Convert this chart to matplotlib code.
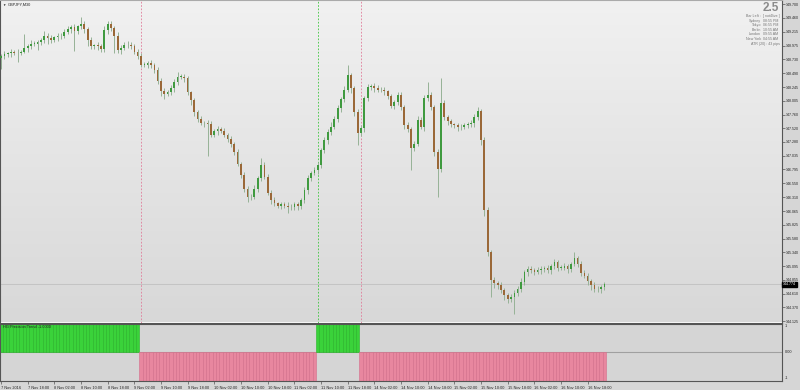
import numpy as np
import matplotlib
matplotlib.use('Agg')
import matplotlib.pyplot as plt
from matplotlib.colors import LinearSegmentedColormap

plt.rcParams['font.family'] = ['Liberation Sans', 'DejaVu Sans']

# GBPJPY hourly closes (7 Nov 10:00 .. 16 Nov 23:00, weekend skipped)
closes = [
    148.79, 148.82, 148.84, 148.86, 148.85, 148.84, 148.87, 148.93, 148.96, 149.01,
    149.01, 149.03, 149.08, 149.15, 149.10, 149.07, 149.12, 149.14, 149.15, 149.21,
    149.26, 149.30, 149.23, 149.31, 149.35, 149.26, 149.07, 148.96, 148.98, 148.96,
    148.91, 149.24, 149.35, 149.28, 149.15, 148.89, 148.94, 148.98, 148.99, 148.96,
    148.87, 148.79, 148.64, 148.64, 148.66, 148.63, 148.54, 148.36, 148.17, 148.13,
    148.15, 148.22, 148.33, 148.43, 148.43, 148.40, 148.15, 148.01, 147.80, 147.68,
    147.61, 147.61, 147.59, 147.41, 147.47, 147.50, 147.48, 147.41, 147.34, 147.24,
    147.11, 146.90, 146.69, 146.46, 146.31, 146.32, 146.46, 146.64, 146.87, 146.67,
    146.39, 146.25, 146.20, 146.16, 146.18, 146.16, 146.13, 146.13, 146.18, 146.15,
    146.25, 146.43, 146.64, 146.73, 146.78, 146.87, 147.13, 147.31, 147.45, 147.55,
    147.68, 147.87, 148.03, 148.20, 148.45, 148.22, 147.80, 147.43, 147.52, 148.05,
    148.24, 148.26, 148.22, 148.20, 148.19, 148.17, 148.08, 147.92, 147.98, 148.10,
    147.89, 147.57, 147.50, 147.18, 147.25, 147.66, 147.54, 148.05, 148.10, 147.89,
    147.10, 146.80, 147.96, 147.71, 147.64, 147.59, 147.57, 147.54, 147.55, 147.57,
    147.59, 147.61, 147.71, 147.82, 147.31, 146.08, 145.34, 144.85, 144.79, 144.76,
    144.67, 144.58, 144.51, 144.55, 144.63, 144.69, 144.81, 144.99, 145.04, 145.02,
    144.99, 145.02, 145.04, 145.06, 145.02, 145.09, 145.16, 145.07, 145.07, 145.09,
    145.04, 145.13, 145.23, 145.14, 144.97, 144.92, 144.83, 144.76, 144.70, 144.69,
    144.72, 144.774,
]
first_open = 148.76

# wick lengths beyond the body, in pips
wick_up = [
    4, 6, 3, 5, 4, 7, 3, 25, 5, 6,
    4, 5, 3, 8, 4, 6, 3, 5, 4, 6,
    5, 4, 6, 3, 12, 5, 4, 6, 3, 5,
    4, 8, 6, 5, 3, 6, 4, 5, 6, 4,
    5, 4, 6, 5, 4, 6, 3, 5, 4, 5,
    4, 6, 5, 8, 4, 5, 4, 3, 5, 4,
    5, 4, 6, 5, 4, 6, 5, 4, 3, 5,
    4, 5, 3, 6, 4, 5, 6, 4, 12, 5,
    5, 4, 6, 3, 5, 4, 6, 5, 4, 5,
    4, 6, 5, 4, 6, 5, 4, 6, 5, 8,
    5, 6, 4, 6, 18, 5, 4, 6, 5, 4,
    6, 4, 5, 6, 4, 5, 3, 5, 4, 6,
    5, 4, 6, 5, 4, 8, 5, 6, 23, 5,
    4, 5, 44, 6, 4, 5, 3, 5, 4, 5,
    4, 5, 6, 8, 4, 6, 5, 4, 6, 5,
    6, 4, 5, 6, 4, 5, 8, 4, 6, 5,
    4, 6, 5, 4, 6, 5, 6, 4, 5, 6,
    5, 4, 11, 5, 4, 6, 5, 4, 6, 5,
    4, 5,
]
wick_dn = [
    20, 5, 4, 6, 5, 15, 4, 3, 6, 5,
    5, 12, 4, 6, 10, 5, 4, 6, 5, 4,
    4, 6, 35, 5, 4, 6, 10, 5, 4, 6,
    5, 4, 6, 5, 30, 4, 6, 5, 4, 5,
    4, 6, 5, 4, 6, 5, 4, 6, 8, 10,
    5, 4, 6, 5, 4, 6, 5, 8, 6, 5,
    4, 6, 55, 5, 4, 6, 5, 4, 6, 5,
    6, 5, 4, 6, 8, 5, 4, 6, 4, 5,
    4, 6, 5, 4, 6, 5, 10, 4, 5, 6,
    5, 4, 6, 5, 4, 6, 5, 4, 6, 5,
    4, 5, 6, 5, 4, 8, 6, 20, 5, 6,
    5, 4, 6, 5, 4, 6, 5, 4, 6, 5,
    4, 6, 5, 40, 6, 5, 4, 6, 5, 4,
    6, 49, 5, 4, 6, 5, 4, 6, 5, 4,
    5, 4, 6, 5, 8, 10, 6, 30, 8, 6,
    5, 8, 6, 5, 30, 6, 5, 4, 6, 5,
    5, 4, 6, 5, 4, 6, 5, 6, 4, 5,
    6, 5, 4, 6, 5, 4, 6, 8, 6, 5,
    6, 4,
]

# HG Precision Trend: (value, number of bars)
trend_runs = [(1, 42), (-1, 53), (1, 13), (-1, 74)]

price_ticks = [149.700, 149.460, 149.215, 148.975, 148.730, 148.490, 148.245, 148.005,
               147.760, 147.520, 147.280, 147.035, 146.795, 146.550, 146.310, 146.065,
               145.825, 145.580, 145.340, 145.095, 144.855, 144.610, 144.370, 144.125]
time_labels = ["7 Nov 2016", "7 Nov 18:00", "8 Nov 02:00", "8 Nov 10:00", "8 Nov 18:00",
               "9 Nov 02:00", "9 Nov 10:00", "9 Nov 18:00", "10 Nov 02:00", "10 Nov 10:00",
               "10 Nov 18:00", "11 Nov 02:00", "11 Nov 10:00", "11 Nov 18:00", "14 Nov 02:00",
               "14 Nov 10:00", "14 Nov 18:00", "15 Nov 02:00", "15 Nov 10:00", "15 Nov 18:00",
               "16 Nov 02:00", "16 Nov 10:00", "16 Nov 18:00"]
label_every = 8
last_price = 144.774
info_rows = [("Bar Left :", "[ not4live ]"), ("Sydney", "08:55 PM"), ("Tokyo", "06:55 PM"),
             ("Berlin", "10:55 AM"), ("London", "09:55 AM"), ("New York", "04:55 AM")]
atr_text = "ATR (20) : 43 pips"
spread_text = "2.5"

c = np.array(closes)
o = np.array([first_open] + closes[:-1])
hi = np.maximum(o, c) + np.array(wick_up) * 0.01
lo = np.minimum(o, c) - np.array(wick_dn) * 0.01
n = len(c)
idx = np.arange(n)
trend = np.repeat([v for v, k in trend_runs], [k for v, k in trend_runs])

W, H = 800, 390
fig = plt.figure(figsize=(8, 3.9), dpi=100, facecolor='#d6d6d6')


def px(x0, y0, x1, y1):
    return [x0 / W, 1 - y1 / H, (x1 - x0) / W, (y1 - y0) / H]


ax = fig.add_axes(px(0, 0, 782, 322.5))
sub = fig.add_axes(px(0, 323.5, 782, 381))

xlim = (-0.3, 234.3)
ylim = (144.104, 149.776)

# background gradient
grad = LinearSegmentedColormap.from_list('bg', ['#f1f1f1', '#d8d8d8'])
ax.imshow(np.linspace(0, 1, 256).reshape(-1, 1), cmap=grad, aspect='auto',
          extent=[xlim[0], xlim[1], ylim[0], ylim[1]], zorder=0)

# candles
ax.vlines(idx, lo, hi, color='#96b296', lw=0.7, zorder=2)
body = np.maximum(np.abs(c - o), 0.008)
bull = c >= o
ax.bar(idx[bull], body[bull], bottom=np.minimum(o, c)[bull], width=0.5,
       color='#3f9a3f', zorder=3)
ax.bar(idx[~bull], body[~bull], bottom=np.minimum(o, c)[~bull], width=0.5,
       color='#9a6838', zorder=3)

ax.axhline(last_price, color='#c4c4c4', lw=0.7, zorder=1)

# trend change markers
for i in np.flatnonzero(np.diff(trend)) + 1:
    col = '#3cc43c' if trend[i] > 0 else '#e07a98'
    ax.axvline(i, color=col, lw=0.6, ls=(0, (2, 2)), zorder=1)

ax.set_xlim(xlim)
ax.set_ylim(ylim)
ax.set_xticks([])
ax.yaxis.tick_right()
ax.set_yticks(price_ticks)
ax.set_yticklabels(['%.3f' % p for p in price_ticks])
ax.tick_params(axis='y', length=2, width=0.5, pad=0.8, labelsize=2.6,
               color='#555555', labelcolor='#222222')
for s in ax.spines.values():
    s.set_color('#555555')
    s.set_linewidth(0.8)
ax.spines['top'].set_color('#aaaaaa')

ax.text(1.001, last_price, '%.3f' % last_price, transform=ax.get_yaxis_transform(),
        ha='left', va='center', fontsize=2.6, color='white', clip_on=False,
        bbox=dict(boxstyle='square,pad=0.25', fc='black', ec='black'))

# indicator window
sub.set_facecolor('#d5d5d5')
sub.axhline(0, color='#a0a0a0', lw=0.8, zorder=0)
face = np.where(trend > 0, '#3ad23a', '#e8879f')
edge = np.where(trend > 0, '#27b427', '#d56e8b')
sub.bar(idx, trend, width=1.0, color=face, edgecolor=edge, linewidth=0.4, zorder=2)
sub.set_xlim(xlim)
sub.set_ylim(-1, 1)
sub.set_yticks([])
for s in sub.spines.values():
    s.set_color('#555555')
    s.set_linewidth(0.8)

tick_idx = idx[::label_every][:len(time_labels)]
sub.set_xticks(tick_idx)
sub.set_xticklabels(time_labels, ha='left')
sub.tick_params(axis='x', length=2.5, width=0.5, pad=0.8, labelsize=2.8,
                color='#555555', labelcolor='#222222')

ytr = sub.get_yaxis_transform()
sub.text(1.004, 0.97, '1', transform=ytr, ha='left', va='top', fontsize=2.8, color='#222222')
sub.text(1.004, 0, '0.00', transform=ytr, ha='left', va='center', fontsize=2.8, color='#222222')
sub.text(1.004, -0.97, '-1', transform=ytr, ha='left', va='bottom', fontsize=2.8, color='#222222')

# titles and info panel
fig.text(2 / W, 1 - 4.5 / H, '\u25bc', fontsize=2.4, va='center', ha='left', color='#222222')
fig.text(8 / W, 1 - 4.5 / H, 'GBPJPY,M30', fontsize=2.8, va='center', ha='left', color='#222222')
fig.text(3 / W, 1 - 327.5 / H, 'HG Precision Trend -1.0000', fontsize=2.8, va='center',
         ha='left', color='#222222')

fig.text(779 / W, 1 - 8 / H, spread_text, fontsize=8.5, fontweight='bold', ha='right',
         va='center', color='#8a8a8a')
for k, (lab, val) in enumerate(info_rows):
    yy = 1 - (16 + k * 4.6) / H
    fig.text(761 / W, yy, lab, fontsize=2.6, ha='right', va='center', color='#777777')
    fig.text(763 / W, yy, val, fontsize=2.6, ha='left', va='center', color='#777777')
fig.text(780 / W, 1 - 44 / H, atr_text, fontsize=2.6, ha='right', va='center', color='#777777')

fig.savefig('out.png', dpi=100, facecolor=fig.get_facecolor())
